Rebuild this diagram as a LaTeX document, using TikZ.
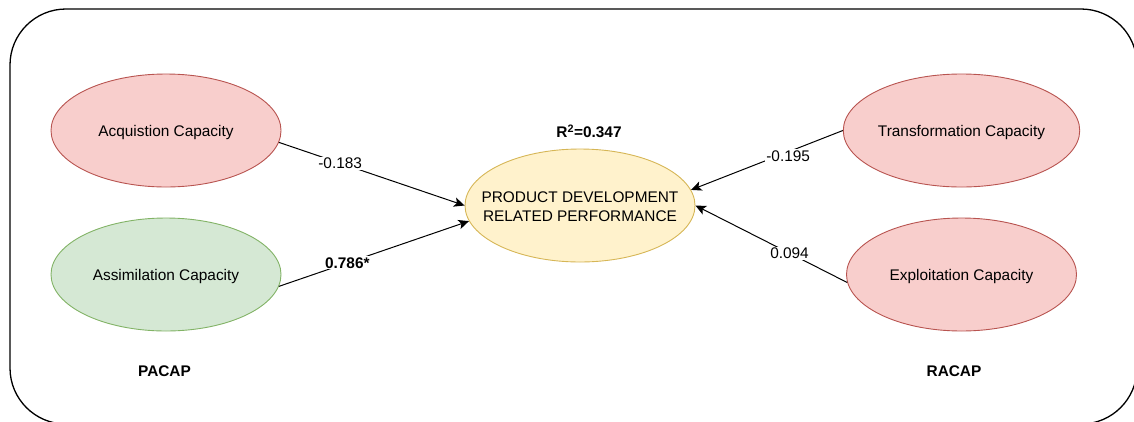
\documentclass[tikz,border=0pt]{standalone}
\usepackage{fontspec}
\setmainfont{Liberation Sans}
\usetikzlibrary{arrows.meta,shapes.geometric}

\definecolor{redfill}{HTML}{F8CECC}
\definecolor{redline}{HTML}{B85450}
\definecolor{greenfill}{HTML}{D5E8D4}
\definecolor{greenline}{HTML}{82B366}
\definecolor{yellowfill}{HTML}{FFF2CC}
\definecolor{yellowline}{HTML}{D6B656}

\tikzset{
  construct/.style={ellipse, minimum width=230pt, minimum height=113pt,
    inner sep=0pt, line width=0.9pt, text depth=0pt},
  redell/.style={construct, fill=redfill, draw=redline},
  greenell/.style={construct, fill=greenfill, draw=greenline},
  yellowell/.style={construct, fill=yellowfill, draw=yellowline},
  conn/.style={line width=1pt, -{Stealth[length=10.5pt,width=9.5pt,inset=2.5pt]}},
  coef/.style={fill=white, inner sep=1pt},
  heading/.style={font=\fontsize{15.4}{18.4}\selectfont\bfseries}
}

\begin{document}
\begin{tikzpicture}[x=1pt, y=-1pt,
  every node/.append style={font=\fontsize{15.4}{18.4}\selectfont}]
\useasboundingbox (0,0) rectangle (1134,421);

% outer frame
\draw[line width=1.3pt, rounded corners=56pt] (10,9) rectangle (1137,424);

% constructs
\node[redell]   (acq)  at (166,130.5) {Acquistion Capacity};
\node[greenell] (asm)  at (166,274.5) {Assimilation Capacity};
\node[redell]   (trf)  at (961.5,130.5) {Transformation Capacity};
\node[redell]   (exp)  at (961.5,274.5) {Exploitation Capacity};
\node[yellowell] (pdp) at (580,205.5) {};
\node[align=center] (pdptext) at (580,206.5) {PRODUCT DEVELOPMENT\\RELATED PERFORMANCE};

% headings
\node[heading] (rsq) at (589,131) {R\textsuperscript{2}=0.347};
\node[heading] (pacap) at (164.5,371) {PACAP};
\node[heading] (racap) at (954,371) {RACAP};

% paths
\draw[conn] (acq.-6) -- node[coef, pos=0.33] {-0.183} (pdp.180);
\draw[conn] (asm.-6) -- node[coef, heading, pos=0.36] {0.786*} (pdp.188);
\draw[conn] (trf.180) -- node[coef, pos=0.36, yshift=-4pt] {-0.195} (pdp.8);
\draw[conn] (exp.184) -- node[coef, pos=0.38] {0.094} (pdp.0);
\end{tikzpicture}
\end{document}
